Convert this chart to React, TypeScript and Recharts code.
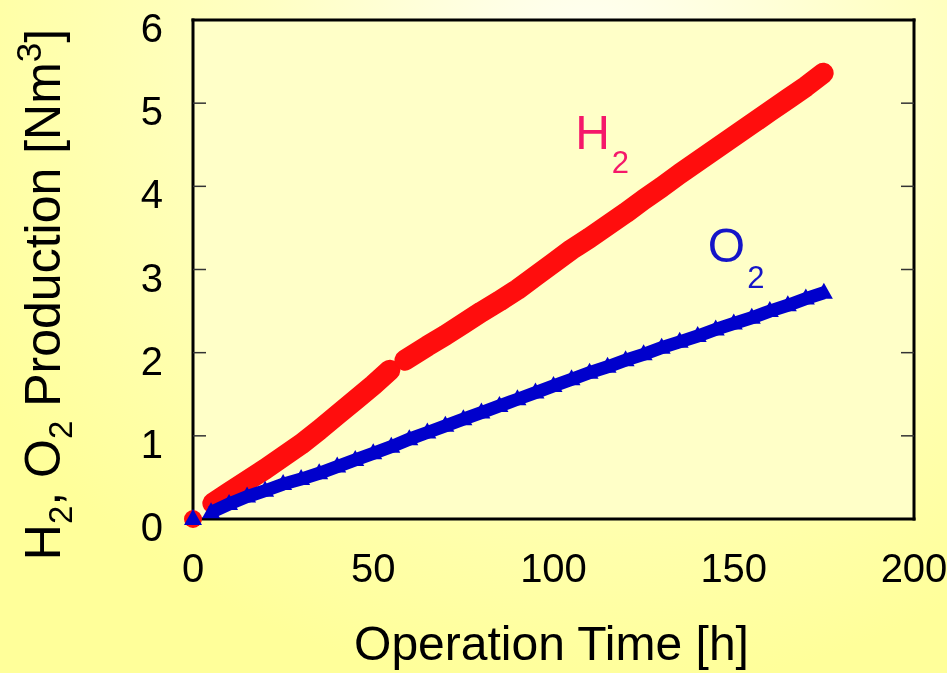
import { ComposedChart, Line, Scatter, XAxis, YAxis, ReferenceDot, CartesianGrid } from "recharts";

const FONT = "'Liberation Sans', Arial, Helvetica, sans-serif";

// H2 production before the short stop (~56 h)
const h2TimeA = [5.5, 10, 15, 20, 25, 30, 35, 40, 45, 50, 54.6];
const h2ValueA = [0.19, 0.32, 0.46, 0.6, 0.75, 0.9, 1.07, 1.25, 1.43, 1.61, 1.79];

// H2 production after restart
const h2TimeB = [58.8, 65, 70, 75, 80, 85, 90, 95, 100, 105, 110, 115, 120, 125, 130, 135, 140, 145, 150, 155, 160, 165, 170, 174.8];
const h2ValueB = [1.91, 2.08, 2.21, 2.35, 2.49, 2.62, 2.76, 2.92, 3.08, 3.24, 3.38, 3.53, 3.68, 3.84, 3.99, 4.15, 4.3, 4.45, 4.6, 4.75, 4.9, 5.05, 5.2, 5.36];

// O2 production
const o2Time = [5, 10, 15, 20, 25, 30, 35, 40, 45, 50, 55, 60, 65, 70, 75, 80, 85, 90, 95, 100, 105, 110, 115, 120, 125, 130, 135, 140, 145, 150, 155, 160, 165, 170, 175];
const o2Value = [0.08, 0.18, 0.27, 0.34, 0.42, 0.48, 0.55, 0.63, 0.71, 0.79, 0.87, 0.96, 1.04, 1.12, 1.2, 1.28, 1.36, 1.44, 1.52, 1.6, 1.68, 1.76, 1.83, 1.91, 1.98, 2.06, 2.13, 2.2, 2.28, 2.35, 2.42, 2.5, 2.57, 2.65, 2.72];

// start point for both gases
const originTime = [0];
const originValue = [0];

const xTicks = [0, 50, 100, 150, 200];
const yTicks = [0, 1, 2, 3, 4, 5, 6];
const xInnerTicks = [50, 100, 150];
const yInnerTicks = [1, 2, 3, 4, 5];

const toRows = (ts: number[], vs: number[]) => ts.map((t, i) => ({ t, v: vs[i] }));

const h2RowsA = toRows(h2TimeA, h2ValueA);
const h2RowsB = toRows(h2TimeB, h2ValueB);
const o2Rows = toRows(o2Time, o2Value);
const originRows = toRows(originTime, originValue);

const RED = "#FF0D0D";
const BLUE = "#0000CC";

const XTick = ({ x, y, payload }: any) => (
  <text x={x} y={y + 63} textAnchor="middle" fontSize={40} fontFamily={FONT} fill="#000">
    {payload.value}
  </text>
);

const YTick = ({ x, y, payload }: any) => (
  <text x={x - 30} y={y + 22} textAnchor="end" fontSize={40} fontFamily={FONT} fill="#000">
    {payload.value}
  </text>
);

const NoTick = () => <g />;

const YTitle = ({ viewBox }: any) => {
  const cx = viewBox.x + 60;
  const cy = viewBox.y + viewBox.height / 2 + 25;
  return (
    <text transform={`translate(${cx},${cy}) rotate(-90)`} textAnchor="middle" fontSize={50} fontFamily={FONT} fill="#000">
      H<tspan fontSize={33} dy={12}>2</tspan>
      <tspan dy={-12}>, O</tspan>
      <tspan fontSize={33} dy={12}>2</tspan>
      <tspan dy={-12}> Production [Nm</tspan>
      <tspan fontSize={35} dy={-19}>3</tspan>
      <tspan dy={19}>]</tspan>
    </text>
  );
};

const XTitle = ({ viewBox }: any) => (
  <text x={viewBox.x + viewBox.width / 2 - 2} y={viewBox.y + 141} textAnchor="middle" fontSize={48} fontFamily={FONT} fill="#000">
    Operation Time [h]
  </text>
);

const GasLabel = ({ viewBox, main, color, subDy }: any) => (
  <text x={viewBox.x} y={viewBox.y} fontSize={48} fontFamily={FONT} fill={color}>
    {main}
    <tspan fontSize={31} dy={subDy} dx={2}>2</tspan>
  </text>
);

const Triangle = (props: any) => {
  const { cx, cy } = props;
  if (cx == null || cy == null) return <g />;
  return <polygon points={`${cx},${cy - 10} ${cx - 9},${cy + 6} ${cx + 9},${cy + 6}`} fill={BLUE} />;
};

const RedDot = (props: any) => <circle cx={props.cx} cy={props.cy} r={9} fill={RED} />;

const frame = { stroke: "#000", strokeWidth: 3, strokeLinecap: "square" as const };
const inner = { stroke: "#333", strokeWidth: 1.5 };

export default function App() {
  return (
    <div
      style={{
        position: "fixed",
        left: 0,
        top: 0,
        width: 947,
        height: 673,
        background: "radial-gradient(ellipse 75% 95% at 62% 8%, #FFFFF4 0%, #FFFFC4 45%, #FFFF9A 100%)",
      }}
    >
      <ComposedChart width={947} height={673} margin={{ top: 20, right: 33, bottom: 0, left: 0 }}>
        <CartesianGrid horizontal={false} vertical={false} fill="#FFFFC8" xAxisId="x" yAxisId="y" />
        <XAxis
          xAxisId="x"
          type="number"
          dataKey="t"
          domain={[0, 200]}
          ticks={xTicks}
          interval={0}
          height={154}
          tickSize={0}
          tickMargin={0}
          tickLine={false}
          axisLine={false}
          tick={<XTick />}
          label={<XTitle />}
        />
        <YAxis
          yAxisId="y"
          type="number"
          domain={[0, 6]}
          ticks={yTicks}
          interval={0}
          width={193}
          tickSize={0}
          tickMargin={0}
          tickLine={false}
          axisLine={false}
          tick={<YTick />}
          label={<YTitle />}
        />
        <XAxis xAxisId="xb" orientation="bottom" mirror type="number" domain={[0, 200]} allowDataOverflow ticks={xInnerTicks} interval={0} height={20} tickSize={13} tick={<NoTick />} tickLine={inner} axisLine={frame} />
        <XAxis xAxisId="xt" orientation="top" mirror type="number" domain={[0, 200]} allowDataOverflow ticks={xInnerTicks} interval={0} height={20} tickSize={13} tick={<NoTick />} tickLine={inner} axisLine={frame} />
        <YAxis yAxisId="yl" orientation="left" mirror type="number" domain={[0, 6]} allowDataOverflow ticks={yInnerTicks} interval={0} width={20} tickSize={13} tick={<NoTick />} tickLine={inner} axisLine={frame} />
        <YAxis yAxisId="yr" orientation="right" mirror type="number" domain={[0, 6]} allowDataOverflow ticks={yInnerTicks} interval={0} width={20} tickSize={13} tick={<NoTick />} tickLine={inner} axisLine={frame} />

        <Line
          xAxisId="x"
          yAxisId="y"
          data={h2RowsA}
          dataKey="v"
          type="linear"
          stroke={RED}
          strokeWidth={21}
          strokeLinecap="round"
          strokeLinejoin="round"
          dot={false}
          activeDot={false}
          isAnimationActive={false}
        />
        <Line
          xAxisId="x"
          yAxisId="y"
          data={h2RowsB}
          dataKey="v"
          type="linear"
          stroke={RED}
          strokeWidth={21}
          strokeLinecap="round"
          strokeLinejoin="round"
          dot={false}
          activeDot={false}
          isAnimationActive={false}
        />
        <Scatter xAxisId="x" yAxisId="y" data={originRows} dataKey="v" shape={<RedDot />} isAnimationActive={false} />
        <Line
          xAxisId="x"
          yAxisId="y"
          data={o2Rows}
          dataKey="v"
          type="linear"
          stroke={BLUE}
          strokeWidth={13}
          dot={<Triangle />}
          activeDot={false}
          isAnimationActive={false}
        />
        <Scatter xAxisId="x" yAxisId="y" data={originRows} dataKey="v" shape={<Triangle />} isAnimationActive={false} />

        <ReferenceDot xAxisId="x" yAxisId="y" x={106} y={4.45} r={0} fill="none" stroke="none" label={<GasLabel main="H" color="#F5186A" subDy={24} />} />
        <ReferenceDot xAxisId="x" yAxisId="y" x={142.8} y={3.09} r={0} fill="none" stroke="none" label={<GasLabel main="O" color="#1414C8" subDy={26} />} />
      </ComposedChart>
    </div>
  );
}
